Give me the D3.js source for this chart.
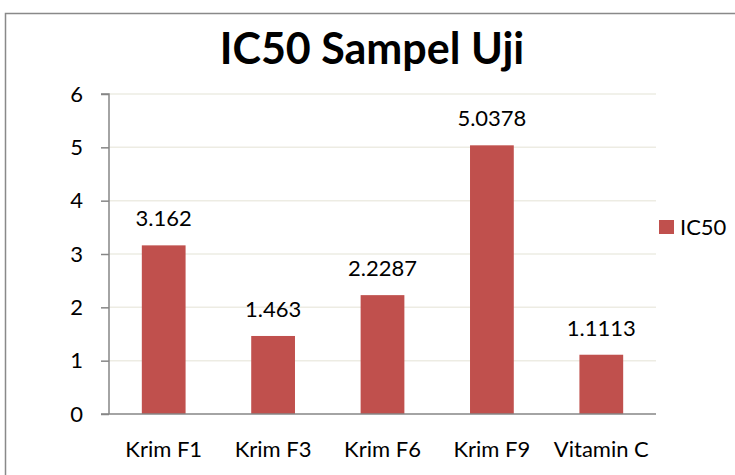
<!DOCTYPE html>
<html>
<head>
<meta charset="utf-8">
<script src="https://cdn.jsdelivr.net/npm/d3@7"></script>
<style>
  body { margin: 0; background: #fff; }
  text { font-family: Lato, sans-serif; fill: #000; }
</style>
</head>
<body>
<svg width="735" height="475"></svg>
<script>
const categories = ["Krim F1", "Krim F3", "Krim F6", "Krim F9", "Vitamin C"];
const values = [3.162, 1.463, 2.2287, 5.0378, 1.1113];
const labels = ["3.162", "1.463", "2.2287", "5.0378", "1.1113"];
const yTicks = [0, 1, 2, 3, 4, 5, 6];
const seriesName = "IC50";
const title = "IC50 Sampel Uji";

const svg = d3.select("svg");
const barColor = "#C0504D";
const fontSize = "22px";

// outer chart border
svg.append("rect")
    .attr("x", 5.5).attr("y", 13.5)
    .attr("width", 740).attr("height", 480)
    .attr("fill", "none")
    .attr("stroke", "#898989")
    .attr("stroke-width", 1.5);

svg.append("text")
    .attr("x", 372).attr("y", 64)
    .attr("text-anchor", "middle")
    .attr("font-weight", "bold")
    .attr("font-size", "43px")
    .text(title);

const plotLeft = 109, plotRight = 656, plotTop = 94, plotBottom = 414;

var x = d3.scaleBand()
    .domain(categories)
    .range([plotLeft, plotRight])
    .paddingInner(0.6)
    .paddingOuter(0.3);

var y = d3.scaleLinear()
    .domain([0, 6])
    .range([plotBottom, plotTop]);

// gridlines
svg.append("g")
    .selectAll("line")
    .data(yTicks.filter(d => d > 0))
    .enter()
    .append("line")
    .attr("x1", plotLeft).attr("x2", plotRight)
    .attr("y1", d => y(d)).attr("y2", d => y(d))
    .attr("stroke", "#EDECE3")
    .attr("stroke-width", 1.5);

// bars
svg.append("g")
    .selectAll("rect")
    .data(values)
    .enter()
    .append("rect")
    .attr("x", (d, i) => x(categories[i]))
    .attr("y", d => y(d))
    .attr("width", x.bandwidth())
    .attr("height", d => plotBottom - y(d))
    .attr("fill", barColor);

// value labels
svg.append("g")
    .selectAll("text")
    .data(values)
    .enter()
    .append("text")
    .attr("x", (d, i) => x(categories[i]) + x.bandwidth() / 2)
    .attr("y", d => y(d) - 19)
    .attr("text-anchor", "middle")
    .attr("font-size", fontSize)
    .text((d, i) => labels[i]);

var yAxis = d3.axisLeft(y)
    .tickValues(yTicks)
    .tickSize(8)
    .tickPadding(18)
    .tickFormat(d3.format("d"));

var gy = svg.append("g")
    .attr("transform", "translate(" + plotLeft + ",0)")
    .call(yAxis);
gy.select(".domain").attr("stroke", "#868686").attr("stroke-width", 1.5).attr("d", "M-8," + plotTop + "H0V" + plotBottom);
gy.selectAll(".tick line").attr("stroke", "#868686").attr("stroke-width", 1.5);
gy.selectAll(".tick text").attr("font-size", fontSize).attr("font-family", "Lato, sans-serif");

var xAxis = d3.axisBottom(x).tickSize(0).tickPadding(27);
var gx = svg.append("g")
    .attr("transform", "translate(0," + plotBottom + ")")
    .call(xAxis);
gx.select(".domain").attr("stroke", "#868686").attr("stroke-width", 1.5).attr("d", "M" + (plotLeft - 8) + ",0H" + plotRight);
gx.selectAll(".tick text").attr("font-size", fontSize).attr("font-family", "Lato, sans-serif");

// legend
svg.append("rect")
    .attr("x", 659).attr("y", 220)
    .attr("width", 15).attr("height", 14)
    .attr("fill", barColor);
svg.append("text")
    .attr("x", 680).attr("y", 235)
    .attr("font-size", fontSize)
    .text(seriesName);
</script>
</body>
</html>
